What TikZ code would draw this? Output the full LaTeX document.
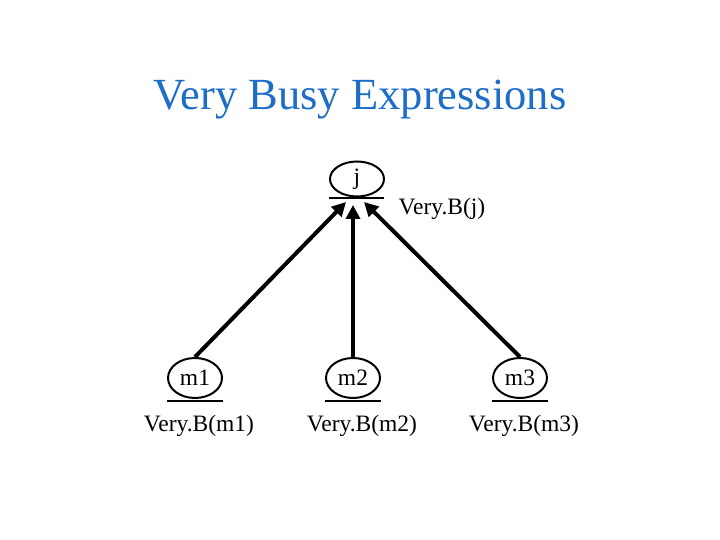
\documentclass[tikz,border=0pt]{standalone}
\usepackage{fontspec}
\setmainfont{Liberation Serif}
\usetikzlibrary{shapes.geometric,arrows.meta}
\definecolor{tblue}{RGB}{30,110,200}
\begin{document}
\begin{tikzpicture}[x=1pt,y=-1pt,
  nd/.style={ellipse,draw,line width=2pt,minimum width=54pt,minimum height=40pt,inner sep=0pt,font=\fontsize{23.5}{26}\selectfont},
  lab/.style={font=\fontsize{23.5}{26}\selectfont},
  arr/.style={line width=4pt,-{Triangle[length=14pt,width=14pt]}}]
\useasboundingbox (0,0) rectangle (720,540);
\node[font=\fontsize{44.5}{50}\selectfont,text=tblue] (t) at (360,100) {Very Busy Expressions};
\node[nd,minimum height=35pt] (j) at (357,179) {j};
\draw[line width=2pt] (329,198) -- (384,198);
\node[lab] (vj) at (442,209) {Very.B(j)};
\node[nd] (m1) at (195,378) {m1};
\node[nd] (m2) at (353,378) {m2};
\node[nd] (m3) at (520,378) {m3};
\foreach \n/\x in {m1/195,m2/353,m3/520}{
  \draw[line width=2pt] (\x-28,401) -- (\x+28,401);}
\node[lab] (l1) at (199,426) {Very.B(m1)};
\node[lab] (l2) at (362,426) {Very.B(m2)};
\node[lab] (l3) at (524,426) {Very.B(m3)};
\coordinate (e1) at (346,202);
\coordinate (e2) at (353,205);
\coordinate (e3) at (364,202);
\draw[arr] (m1.north) -- (e1);
\draw[arr] (m2.north) -- (e2);
\draw[arr] (m3.north) -- (e3);
\end{tikzpicture}
\end{document}
